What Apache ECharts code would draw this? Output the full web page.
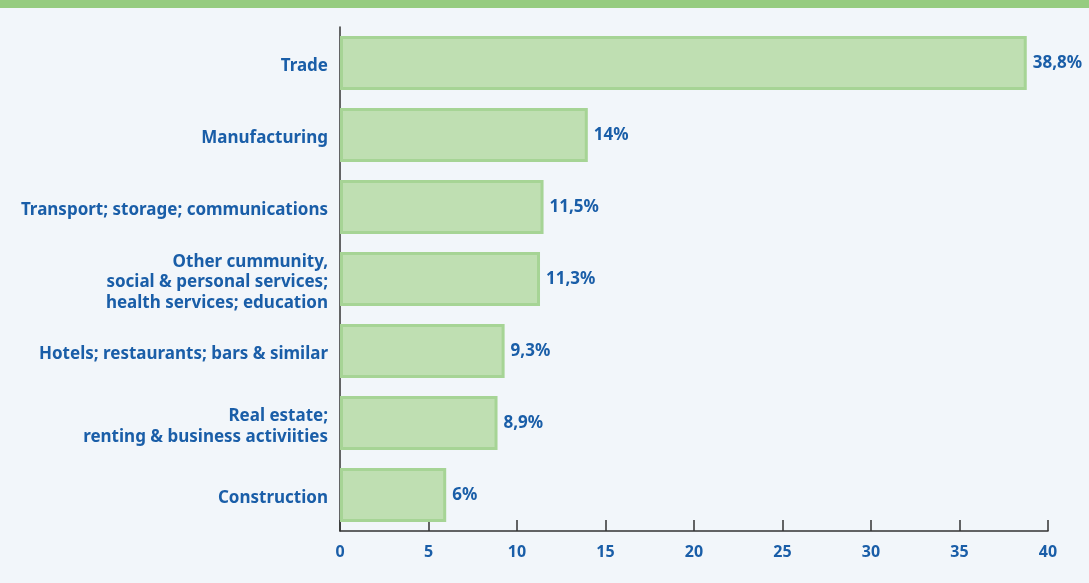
<!DOCTYPE html>
<html>
<head>
<meta charset="utf-8">
<script src="https://cdn.jsdelivr.net/npm/echarts@6/dist/echarts.min.js"></script>
<style>
  html, body { margin: 0; padding: 0; background: #f2f6fa; }
  #chart { width: 1089px; height: 583px; }
</style>
</head>
<body>
<div id="chart"></div>
<script>
// data
var categories = [
    'Trade',
    'Manufacturing',
    'Transport; storage; communications',
    'Other cummunity,\nsocial & personal services;\nhealth services; education',
    'Hotels; restaurants; bars & similar',
    'Real estate;\nrenting & business activiities',
    'Construction'
];
var shares = [38.8, 14, 11.5, 11.3, 9.3, 8.9, 6];

var blue = '#1a5ea8';

var myChart = echarts.init(document.getElementById('chart'));

var option = {
    backgroundColor: '#f2f6fa',
    textStyle: { fontFamily: 'Noto Sans' },
    graphic: [{
        type: 'rect',
        left: 0, top: 0,
        shape: { width: 1089, height: 8 },
        style: { fill: '#96cc80' }
    }],
    grid: {
        left: 340,
        right: 41,
        top: 27,
        bottom: 52
    },
    xAxis: {
        type: 'value',
        min: 0,
        max: 40,
        interval: 5,
        splitLine: { show: false },
        axisLine: { show: true, lineStyle: { color: '#333333', width: 1.5 } },
        axisTick: { show: true, inside: true, length: 11, lineStyle: { color: '#333333', width: 1.5 } },
        axisLabel: {
            color: blue,
            fontWeight: 'bold',
            fontSize: 16,
            margin: 13
        }
    },
    yAxis: {
        type: 'category',
        inverse: true,
        data: categories,
        axisLine: { show: true, lineStyle: { color: '#333333', width: 1.5 } },
        axisTick: { show: false },
        axisLabel: {
            color: blue,
            fontWeight: 'bold',
            fontSize: 17,
            lineHeight: 20.5,
            margin: 12,
            align: 'right',
            verticalAlign: 'middle',
            rich: {},
            formatter: function (v) {
                return v;
            },
            // labels sit a little below the bar centre in the original
            padding: [7, 0, 0, 0]
        }
    },
    series: [{
        type: 'bar',
        data: shares,
        barWidth: 54,
        itemStyle: {
            color: '#bfdfb2',
            borderColor: '#a6d495',
            borderWidth: 3
        },
        label: {
            show: true,
            position: 'right',
            distance: 6,
            color: blue,
            fontWeight: 'bold',
            fontSize: 17,
            formatter: function (p) {
                return String(p.value).replace('.', ',') + '%';
            }
        }
    }]
};

myChart.setOption(option, true);
</script>
</body>
</html>
